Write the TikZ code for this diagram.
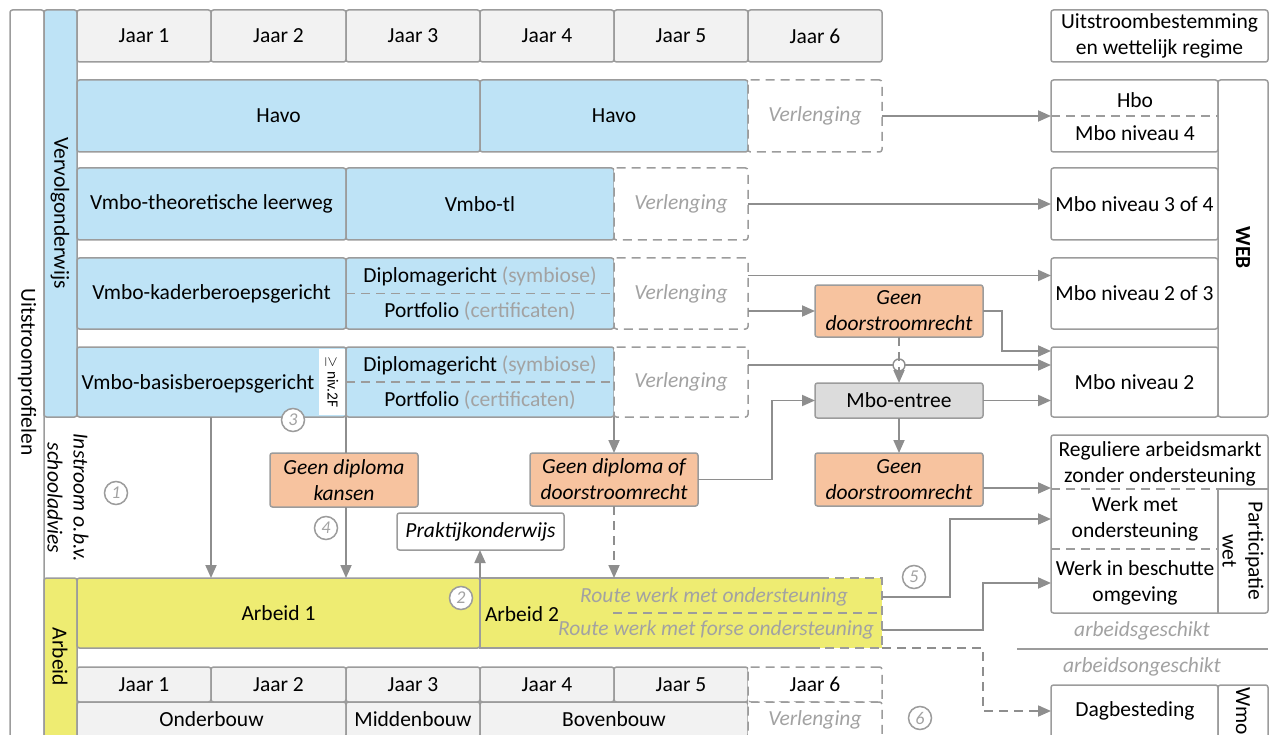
\documentclass[tikz,border=0pt]{standalone}
\usepackage{fontspec}
\setmainfont{Carlito}
\usetikzlibrary{arrows.meta}
\definecolor{bl}{HTML}{BEE3F6}
\definecolor{ye}{HTML}{EEEC72}
\definecolor{orf}{HTML}{F7C39F}
\definecolor{gc}{HTML}{F2F2F2}
\definecolor{ge}{HTML}{DCDCDC}
\definecolor{ln}{HTML}{9C9C9C}
\definecolor{ar}{HTML}{8E8E8E}
\definecolor{tg}{HTML}{A2A2A2}
\newcommand\fs{\fontsize{21.5}{26}\selectfont}
\newcommand\bx[7]{\node[#1, minimum width={(#5)-(#3)}, minimum height={(#6)-(#4)}] (#2) at ({((#3)+(#5))/2},{((#4)+(#6))/2}) {#7};}
\tikzset{
 base/.style={draw=ln, line width=1.5pt, rounded corners=2.5pt, inner sep=0pt, outer sep=0pt, align=center, text=black},
 cellg/.style={base, fill=gc},
 blu/.style={base, fill=bl},
 yel/.style={base, fill=ye},
 org/.style={base, fill=orf, font=\fs\itshape},
 ent/.style={base, fill=ge},
 wbox/.style={base, fill=white},
 dcell/.style={base, fill=white, dash pattern=on 9pt off 6pt},
 dbox/.style={dcell, text=tg, font=\fs\itshape},
 yfill/.style={fill=ye, inner sep=0pt, outer sep=0pt},
 bord/.style={draw=ln, line width=1.5pt},
 dline/.style={bord, dash pattern=on 9pt off 6pt},
 conn/.style={draw=ar, line width=1.8pt, -{Triangle[length=13pt,width=11pt]}},
 plain/.style={draw=ar, line width=1.8pt},
 dconn/.style={conn, dash pattern=on 9pt off 6pt},
 lbl/.style={inner sep=0pt, outer sep=0pt, align=center},
 gi/.style={lbl, text=tg, font=\fs\itshape},
 num/.style={circle, draw=ln, line width=1.5pt, fill=white, minimum size=23pt, inner sep=0pt, text=tg, font=\fontsize{18}{18}\selectfont\itshape},
 jc/.style={circle, draw=ar, line width=1.4pt, fill=white, minimum size=12pt, inner sep=0pt}
}
\begin{document}
\begin{tikzpicture}[x=1pt,y=-1pt,font=\fs]
\clip (0,0) rectangle (1276,735);
\fill[white] (0,0) rectangle (1276,735);
% left frame and columns
\bx{base}{frame}{10}{10}{44}{740}{}
\node[lbl, rotate=-90] (tUit) at (27,372) {Uitstroomprofielen};
\bx{blu}{vcol}{44}{10}{77}{417}{}
\node[lbl, rotate=-90] (tVerv) at (60,213) {Vervolgonderwijs};
\node[lbl, rotate=-90, font=\fs\itshape] (tInst) at (68,498) {Instroom o.b.v.\\schooladvies};
\bx{yel}{acol}{44}{578}{77}{740}{}
\node[lbl, rotate=-90] (tArb) at (60,657) {Arbeid};
% top years
\bx{cellg}{t1}{77}{10}{211}{62}{Jaar 1}
\bx{cellg}{t2}{211}{10}{346}{62}{Jaar 2}
\bx{cellg}{t3}{346}{10}{480}{62}{Jaar 3}
\bx{cellg}{t4}{480}{10}{614}{62}{Jaar 4}
\bx{cellg}{t5}{614}{10}{748}{62}{Jaar 5}
\bx{cellg}{t6}{748}{10}{882}{62}{Jaar 6}
\bx{wbox}{uit}{1051}{10}{1268}{62}{Uitstroombestemming\\en wettelijk regime}
% havo
\bx{blu}{havoA}{77}{80}{480}{152}{Havo}
\bx{blu}{havoB}{480}{80}{748}{152}{Havo}
\bx{dbox}{verlH}{748}{80}{882}{152}{Verlenging}
% vmbo-tl
\bx{blu}{tlA}{77}{168}{346}{240}{Vmbo-theoretische leerweg}
\bx{blu}{tlB}{346}{168}{614}{240}{Vmbo-tl}
\bx{dbox}{verlT}{614}{168}{748}{240}{Verlenging}
% kader
\bx{blu}{kA}{77}{258}{346}{329}{Vmbo-kaderberoepsgericht}
\bx{blu}{kB}{346}{258}{614}{329}{}
\draw[dline] (kB.west) -- (kB.east);
\node[lbl] (kBd) at (480,276) {Diplomagericht \textcolor{tg}{(symbiose)}};
\node[lbl] (kBp) at (480,311) {Portfolio \textcolor{tg}{(certificaten)}};
\bx{dbox}{verlK}{614}{258}{748}{329}{Verlenging}
% basis
\bx{blu}{bA}{77}{347}{346}{417}{}
\node[lbl] (bAt) at (198,384) {Vmbo-basisberoepsgericht};
\bx{lbl, fill=white}{niv}{319}{349}{345}{415}{}
\node[lbl, rotate=-90, font=\fontsize{15.5}{15.5}\selectfont] (nivt) at (332,382) {$\geq$ niv.2F};
\bx{blu}{bB}{346}{347}{614}{417}{}
\draw[dline] (bB.west) -- (bB.east);
\node[lbl] (bBd) at (480,365) {Diplomagericht \textcolor{tg}{(symbiose)}};
\node[lbl] (bBp) at (480,400) {Portfolio \textcolor{tg}{(certificaten)}};
\bx{dbox}{verlB}{614}{347}{748}{417}{Verlenging}
% right WEB block
\bx{wbox}{hbo}{1051}{80}{1218}{152}{}
\draw[dline] (hbo.west) -- (hbo.east);
\node[lbl] (hbot) at (1135,100) {Hbo};
\node[lbl] (mbo4) at (1135,133) {Mbo niveau 4};
\bx{wbox}{m34}{1051}{168}{1218}{240}{Mbo niveau 3 of 4}
\bx{wbox}{m23}{1051}{258}{1218}{329}{Mbo niveau 2 of 3}
\bx{wbox}{m2}{1051}{347}{1218}{417}{Mbo niveau 2}
\bx{wbox}{webc}{1218}{80}{1268}{417}{}
\node[lbl, rotate=-90, font=\fs\bfseries] (webt) at (1243,248) {WEB};
% participatie block
\bx{wbox}{pg}{1051}{435}{1268}{613}{}
\draw[dline] (pg.west |- 0,489) -- (1218,489);
\draw[bord] (1218,489) -- (pg.east |- 0,489);
\draw[bord] (1218,489) -- (1218,613);
\draw[dline] (pg.west |- 0,549) -- (1218,549);
\node[lbl] (reg) at (1160,464) {Reguliere arbeidsmarkt\\zonder ondersteuning};
\node[lbl] (wm) at (1135,519) {Werk met\\ondersteuning};
\node[lbl] (wb) at (1135,583) {Werk in beschutte\\omgeving};
\node[lbl, rotate=-90] (pw) at (1243,551) {Participatie\\wet};
\node[gi] (ag) at (1142,631) {arbeidsgeschikt};
\draw[bord] (1017,649) -- (1268,649);
\node[gi] (aog) at (1142,667) {arbeidsongeschikt};
\bx{wbox}{dag}{1051}{685}{1218}{740}{}
\bx{wbox}{wmo}{1218}{685}{1268}{740}{}
\node[lbl] (dagt) at (1135,711) {Dagbesteding};
\node[lbl, rotate=-90] (wmot) at (1243,711) {Wmo};
% middle nodes
\bx{org}{gdA}{815}{285}{983}{337}{Geen\\doorstroomrecht}
\bx{ent}{entree}{815}{383}{983}{418}{Mbo-entree}
\bx{org}{gdB}{815}{453}{983}{506}{Geen\\doorstroomrecht}
\bx{org}{gdk}{270}{453}{418}{507}{Geen diploma\\kansen}
\bx{org}{gdo}{530}{453}{698}{506}{Geen diploma of\\doorstroomrecht}
\bx{wbox, font=\fs\itshape}{prak}{397}{513}{564}{550}{Praktijkonderwijs}
% arbeid rows
\bx{yel}{arb1}{77}{578}{480}{648}{Arbeid 1}
\bx{yfill}{arb2}{480}{578}{882}{648}{}
\draw[bord] (820,578) -- (480,578) -- (480,648) -- (820,648);
\draw[dline] (820,578) -- (882,578) -- (882,648) -- (820,648);
\draw[dline] (613,613) -- (882,613);
\node[lbl, anchor=west] (a2t) at (485,614) {Arbeid 2};
\node[gi] (r1) at (714,597) {Route werk met ondersteuning};
\node[gi] (r2) at (716,630) {Route werk met forse ondersteuning};
% bottom years
\bx{cellg}{u1}{77}{667}{211}{702}{Jaar 1}
\bx{cellg}{u2}{211}{667}{346}{702}{Jaar 2}
\bx{cellg}{u3}{346}{667}{480}{702}{Jaar 3}
\bx{cellg}{u4}{480}{667}{614}{702}{Jaar 4}
\bx{cellg}{u5}{614}{667}{748}{702}{Jaar 5}
\bx{dcell}{u6}{748}{667}{882}{702}{Jaar 6}
\bx{cellg}{ond}{77}{702}{346}{737}{Onderbouw}
\bx{cellg}{mid}{346}{702}{480}{737}{Middenbouw}
\bx{cellg}{bov}{480}{702}{748}{737}{Bovenbouw}
\bx{dbox}{verlO}{748}{702}{882}{737}{Verlenging}
% connectors
\draw[conn] (verlH.east) -- (hbo.west);
\draw[conn] (verlT.east) -- (m34.west);
\draw[conn] ([yshift=18pt]verlK.east) -- ([yshift=18pt]m23.west);
\draw[conn] ([yshift=-17.5pt]verlK.east) -- (gdA.west);
\draw[conn] (gdA.east) -- ++(19,0) |- ([yshift=31pt]m2.west);
\draw[conn] ([yshift=17pt]verlB.east) -- ([yshift=17pt]m2.west);
\node[jc] (jn) at (899,365) {};
\draw[dconn] (gdA.south) -- (entree.north);
\draw[conn] (gdo.east) -- ++(74,0) |- (entree.west);
\draw[conn] (entree.east) -- (m2.west |- entree.east);
\draw[conn] (entree.south) -- (gdB.north);
\draw[conn] ([yshift=-8.5pt]gdB.east) -- ([yshift=-8.5pt]gdB.east -| pg.west);
\draw[conn] (bB.south east) -- (gdo.north);
\draw[conn] (bA.south -| t1.east) -- (arb1.north -| t1.east);
\draw[plain] (bB.south west) -- (gdk.north -| bB.south west);
\draw[conn] (gdk.south -| bB.south west) -- (arb1.north -| bB.south west);
\draw[conn] (arb1.north east) -- (prak.south -| arb1.north east);
\draw[dconn] (gdo.south) -- (gdo.south |- arb2.north);
\draw[conn] ([yshift=16pt]arb2.east) -- ++(68,0) |- (pg.west |- wm);
\draw[conn] ([yshift=-17pt]arb2.east) -- ++(101,0) |- (pg.west |- wb);
\draw[dconn] (arb2.south east) -- ++(101,0) |- (dag.west |- dagt);
% numbers
\node[num] (n1) at (116,493) {1};
\node[num] (n2) at (461,598) {2};
\node[num] (n3) at (293,420) {3};
\node[num] (n4) at (326,528) {4};
\node[num] (n5) at (914,577) {5};
\node[num] (n6) at (920,718) {6};
\end{tikzpicture}
\end{document}
